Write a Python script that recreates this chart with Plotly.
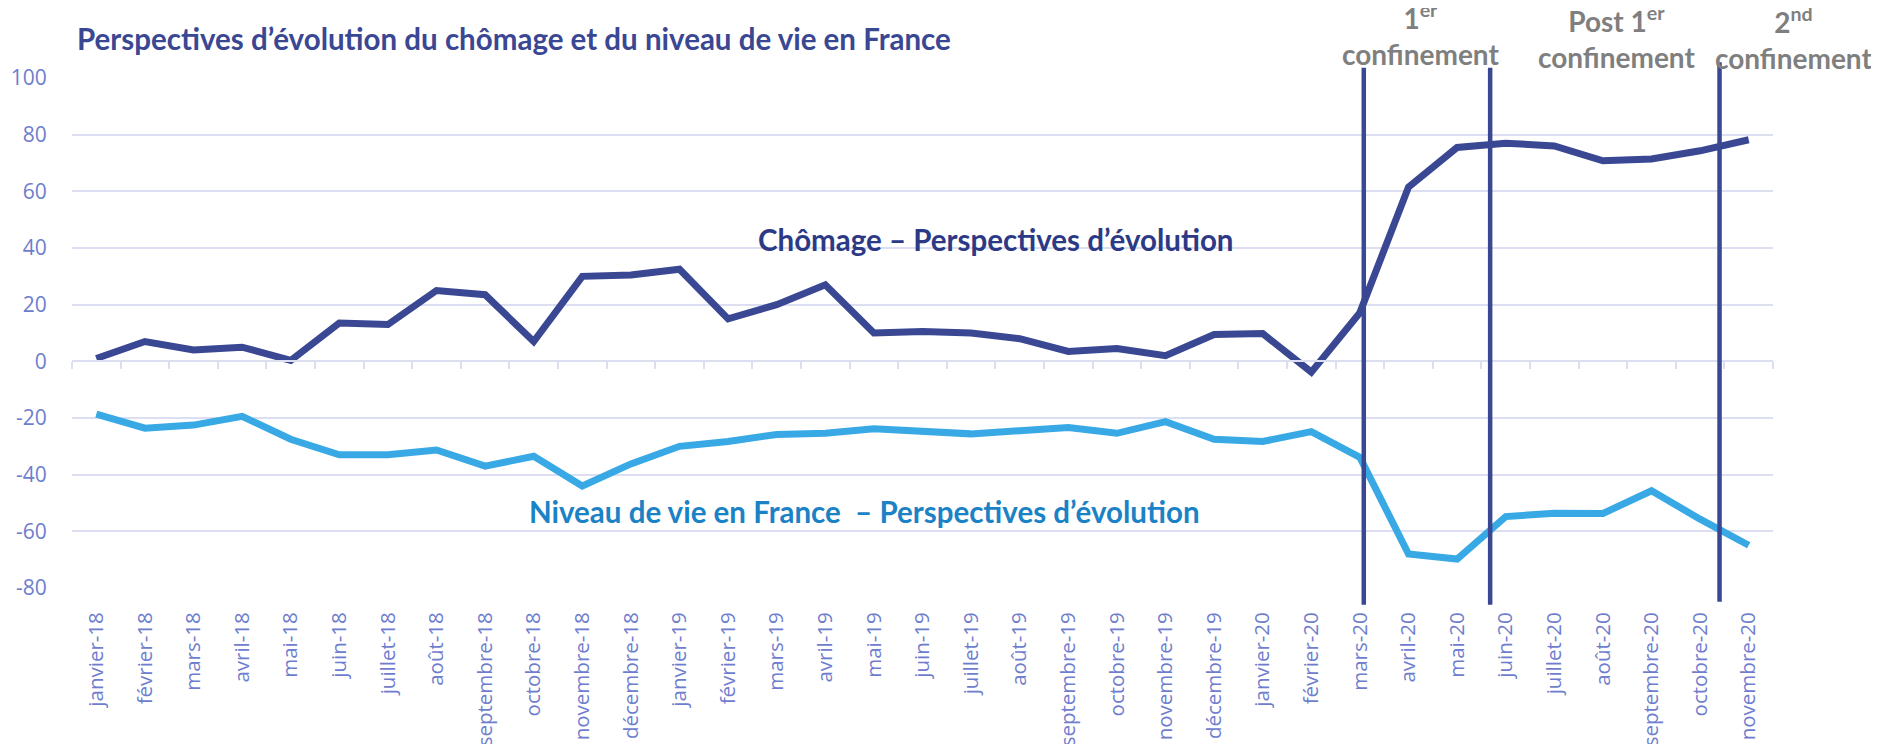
import plotly.graph_objects as go

months = ["janvier-18", "février-18", "mars-18", "avril-18", "mai-18", "juin-18", "juillet-18",
          "août-18", "septembre-18", "octobre-18", "novembre-18", "décembre-18",
          "janvier-19", "février-19", "mars-19", "avril-19", "mai-19", "juin-19", "juillet-19",
          "août-19", "septembre-19", "octobre-19", "novembre-19", "décembre-19",
          "janvier-20", "février-20", "mars-20", "avril-20", "mai-20", "juin-20", "juillet-20",
          "août-20", "septembre-20", "octobre-20", "novembre-20"]

chomage = [1, 7, 4, 5, 0.3, 13.5, 13, 25, 23.5, 7, 30, 30.5,
           32.5, 15, 20, 27, 10, 10.5, 10, 8, 3.5, 4.5, 2, 9.5,
           9.8, -3.8, 17.2, 61.5, 75.5, 77, 76, 70.8, 71.4, 74.3, 78.2]

niveau = [-18.6, -23.6, -22.5, -19.4, -27.5, -33, -33, -31.3, -37, -33.5, -44, -36.2,
          -30, -28.3, -25.8, -25.4, -23.8, -24.5, -25.6, -24.5, -23.4, -25.4, -21.3, -27.5,
          -28.3, -24.8, -33.9, -68, -69.8, -54.8, -53.6, -53.7, -45.7, -55.7, -64.9]

event_positions = [26.08, 28.68, 33.4]
event_tops = [1.02, 1.02, 1.031]
event_bottoms = [-0.033, -0.033, -0.027]

y_ticks = [100, 80, 60, 40, 20, 0, -20, -40, -60, -80]
y_labels = ["100", "80", "60", "40", "20", "0", "-20", "-40", "-60", "-80"]

x = list(range(len(months)))
boundaries = [i - 0.5 for i in range(len(months) + 1)]

DARK = "#3A4793"
LIGHT = "#39A9E6"
AXIS_TXT = "#6E7DCD"
GRID = "#DCDFF2"
GRAY = "#7F7F7F"

fig = go.Figure()
fig.add_trace(go.Scatter(x=x, y=niveau, mode="lines", line=dict(color=LIGHT, width=7),
                         showlegend=False, hoverinfo="skip"))
fig.add_trace(go.Scatter(x=x, y=chomage, mode="lines", line=dict(color=DARK, width=7),
                         showlegend=False, hoverinfo="skip"))
fig.add_trace(go.Scatter(x=[], y=[], xaxis="x2", showlegend=False))

shapes = []
for xp, top, bot in zip(event_positions, event_tops, event_bottoms):
    shapes.append(dict(type="line", xref="x", yref="paper", x0=xp, x1=xp, y0=bot, y1=top,
                       line=dict(color=DARK, width=4.5), layer="above"))

annotations = [
    dict(text="<b>Perspectives d’évolution du chômage et du niveau de vie en France</b>",
         xref="paper", yref="paper", x=0.002, y=1.078, xanchor="left", yanchor="middle",
         showarrow=False, font=dict(family="Lato", size=29.5, color=DARK)),
    dict(text="<b>Chômage – Perspectives d’évolution</b>",
         xref="x", yref="y", x=18.5, y=43, xanchor="center", yanchor="middle",
         showarrow=False, font=dict(family="Lato", size=29.5, color="#2C3A86")),
    dict(text="<b>Niveau de vie en France  – Perspectives d’évolution</b>",
         xref="x", yref="y", x=15.8, y=-53, xanchor="center", yanchor="middle",
         showarrow=False, font=dict(family="Lato", size=29.5, color="#1B82C6")),
    dict(text="<b>1<sup>er</sup><br>confinement</b>",
         xref="paper", yref="paper", x=0.7925, y=1.085, xanchor="center", yanchor="middle",
         showarrow=False, font=dict(family="Lato", size=28, color=GRAY)),
    dict(text="<b>Post 1<sup>er</sup><br>confinement</b>",
         xref="paper", yref="paper", x=0.908, y=1.08, xanchor="center", yanchor="middle",
         showarrow=False, font=dict(family="Lato", size=28, color=GRAY)),
    dict(text="<b>2<sup>nd</sup><br>confinement</b>",
         xref="paper", yref="paper", x=1.012, y=1.077, xanchor="center", yanchor="middle",
         showarrow=False, font=dict(family="Lato", size=28, color=GRAY)),
]

fig.update_layout(
    width=1871, height=736,
    margin=dict(l=64, r=106, t=70, b=156),
    paper_bgcolor="white", plot_bgcolor="white",
    font=dict(family="Open Sans", color=AXIS_TXT),
    shapes=shapes, annotations=annotations,
    xaxis=dict(range=[-0.5, len(months) - 0.5], tickmode="array", tickvals=x, ticktext=months,
               tickangle=-90, showgrid=False, zeroline=False, showline=False,
               ticks="outside", ticklen=0, ticklabelstandoff=15, automargin=False,
               tickfont=dict(family="Open Sans", size=20.5, color=AXIS_TXT)),
    xaxis2=dict(overlaying="x", anchor="free", position=80 / 180, side="bottom",
                range=[-0.5, len(months) - 0.5], tickmode="array", tickvals=boundaries,
                ticks="outside", ticklen=7, tickwidth=2, tickcolor=GRID,
                showline=True, linecolor=GRID, linewidth=2, showticklabels=False,
                showgrid=False, zeroline=False, automargin=False),
    yaxis=dict(range=[-80, 100], tickmode="array", tickvals=y_ticks, ticktext=y_labels,
               showgrid=True, gridcolor=GRID, gridwidth=2, zeroline=False, showline=False,
               ticks="outside", ticklen=0, ticklabelstandoff=20, automargin=False,
               tickfont=dict(family="Open Sans", size=21, color=AXIS_TXT)),
)

fig.write_html("out.html")
